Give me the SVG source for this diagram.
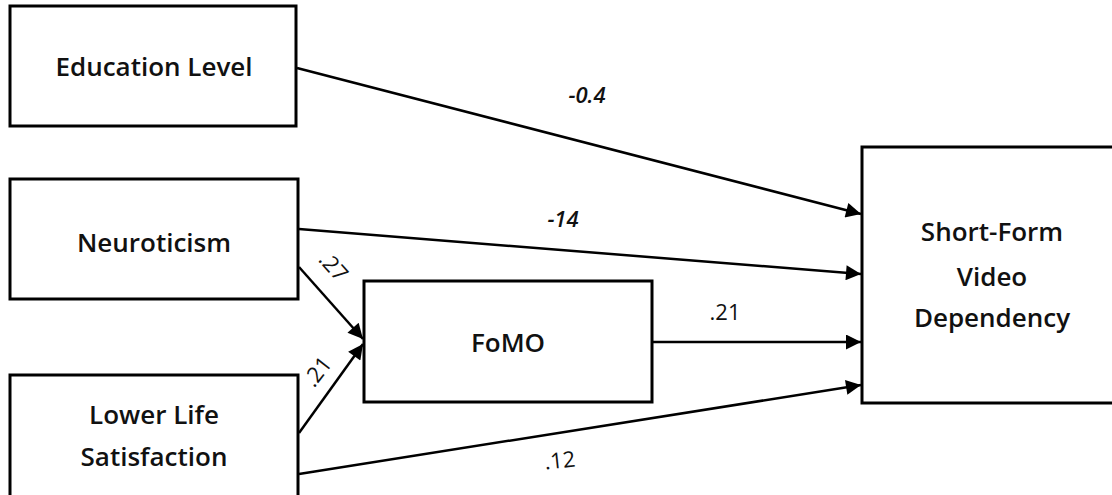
<svg xmlns="http://www.w3.org/2000/svg" width="1112" height="495" viewBox="0 0 1112 495">
<style>
.box{fill:#fff;stroke:#000;stroke-width:3}
.t{font-family:"Open Sans","Liberation Sans",sans-serif;font-size:26px;font-weight:600;fill:#111;text-anchor:middle}
.lbl{font-family:"Open Sans","Liberation Sans",sans-serif;font-size:22px;fill:#111;text-anchor:middle}
.it{font-style:italic;font-weight:600}
.c{stroke:#000;stroke-width:2.5;fill:none;marker-end:url(#ah)}
</style>
<defs>
<marker id="ah" viewBox="0 0 10 10" refX="10" refY="5" markerWidth="7" markerHeight="6" markerUnits="strokeWidth" orient="auto">
<path d="M0,0 L10,5 L0,10 z" fill="#000"/>
</marker>
</defs>
<rect width="1112" height="495" fill="#fff"/>
<g id="connectors">
<line class="c" x1="297" y1="68" x2="861" y2="214"/>
<line class="c" x1="299" y1="229" x2="861" y2="274"/>
<line class="c" x1="652" y1="342" x2="861" y2="342"/>
<line class="c" x1="299" y1="474" x2="861" y2="385"/>
<line class="c" x1="299" y1="267" x2="363" y2="339"/>
<line class="c" x1="299" y1="433" x2="363" y2="344"/>
<text class="lbl it" x="587" y="103">-0.4</text>
<text class="lbl it" x="563" y="227">-14</text>
<text class="lbl" x="725" y="320">.21</text>
<text class="lbl" x="560" y="468" transform="rotate(-6 560 462)">.12</text>
<text class="lbl" x="0" y="7" transform="translate(333 267) rotate(48)">.27</text>
<text class="lbl" x="0" y="7" transform="translate(318 372) rotate(-52)">.21</text>
</g>
<g id="education">
<rect class="box" x="10" y="6" width="286" height="120"/>
<text class="t" x="154" y="76">Education Level</text>
</g>
<g id="neuroticism">
<rect class="box" x="10" y="179" width="288" height="120"/>
<text class="t" x="154" y="252">Neuroticism</text>
</g>
<g id="lls">
<rect class="box" x="10" y="375" width="288" height="140"/>
<text class="t" x="154" y="424">Lower Life</text>
<text class="t" x="154" y="466">Satisfaction</text>
</g>
<g id="fomo">
<rect class="box" x="364" y="281" width="288" height="121"/>
<text class="t" x="508" y="352">FoMO</text>
</g>
<g id="sfvd">
<rect class="box" x="862" y="147" width="270" height="256"/>
<text class="t" x="992" y="241">Short-Form</text>
<text class="t" x="992" y="286">Video</text>
<text class="t" x="992" y="327">Dependency</text>
</g>
</svg>
